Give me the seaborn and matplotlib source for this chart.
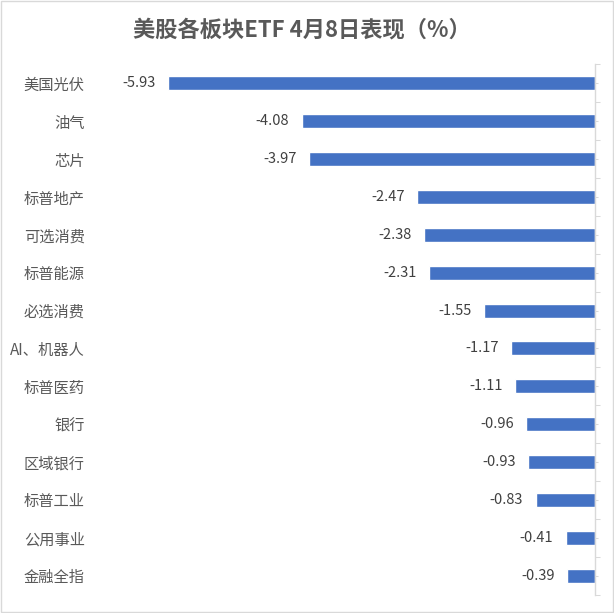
import numpy as np
import pandas as pd
import matplotlib
matplotlib.use("Agg")
import matplotlib.pyplot as plt
import seaborn as sns
from matplotlib.patches import Rectangle

# sector returns on 8 April (%)
sectors = ["美国光伏", "油气", "芯片", "标普地产", "可选消费", "标普能源", "必选消费",
           "AI、机器人", "标普医药", "银行", "区域银行", "标普工业", "公用事业", "金融全指"]
returns = [-5.93, -4.08, -3.97, -2.47, -2.38, -2.31, -1.55,
           -1.17, -1.11, -0.96, -0.93, -0.83, -0.41, -0.39]
title = "美股各板块ETF 4月8日表现（%）"

df = pd.DataFrame({"sector": sectors, "ret": returns})

sns.set_theme(style="white")
plt.rcParams["font.family"] = ["Noto Sans CJK SC", "DejaVu Sans"]
plt.rcParams["axes.unicode_minus"] = False

fig = plt.figure(figsize=(6.14, 6.13), dpi=100)
ax = fig.add_axes([0.1487, 0.0299, 0.9695 - 0.1487, 0.8951 - 0.0299])

sns.barplot(data=df, x="ret", y="sector", orient="h", color="#4472C4",
            saturation=1, width=0.37, ax=ax)

ax.set_xlim(-7, 0)
ax.set_ylim(len(sectors) - 0.5, -0.5)
ax.set_xlabel("")
ax.set_ylabel("")
ax.set_xticks([])

for s in ["top", "bottom", "left"]:
    ax.spines[s].set_visible(False)
ax.spines["right"].set_color("#D9D9D9")
ax.spines["right"].set_linewidth(1)

ax.set_yticks(range(len(sectors)))
ax.set_yticklabels(sectors)
ax.set_yticks(np.arange(-0.5, len(sectors), 1), minor=True)
ax.tick_params(axis="y", which="major", left=False, right=True, labelleft=True,
               labelright=False, length=2.4, width=0.75, color="#D9D9D9",
               pad=2.3, labelsize=11, labelcolor="#595959")
ax.tick_params(axis="y", which="minor", left=False, right=True, length=3.8,
               width=0.75, color="#D9D9D9")

ax.bar_label(ax.containers[0], fmt="%.2f", padding=9, fontsize=10.5, color="#404040")

fig.text(0.491, 1 - 30 / 613, title, ha="center", va="center", fontsize=16,
         fontweight="bold", color="#595959")

fig.patches.append(Rectangle((0.002, 0.002), 0.996, 0.996, transform=fig.transFigure,
                             fill=False, edgecolor="#D9D9D9", linewidth=1))

fig.savefig("out.png", dpi=100)
